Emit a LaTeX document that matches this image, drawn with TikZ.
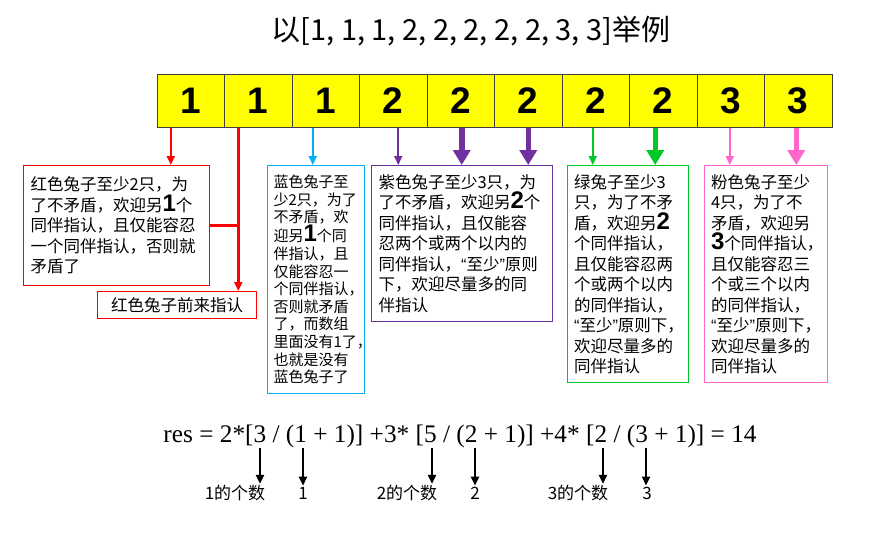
\documentclass[tikz,border=0pt]{standalone}
\usepackage{fontspec}
\usepackage{tikz}
\usetikzlibrary{positioning}
\usetikzlibrary{arrows.meta}

\newfontfamily\cjk{Noto Sans CJK SC}
\newfontfamily\arialf{Liberation Sans}
\newfontfamily\timesf{Liberation Serif}

\definecolor{rosso}{RGB}{255,0,0}
\definecolor{azzurro}{RGB}{0,176,240}
\definecolor{viola}{RGB}{112,48,160}
\definecolor{verde}{RGB}{0,200,40}
\definecolor{rosa}{RGB}{255,102,204}
\definecolor{giallo}{RGB}{255,255,0}

\newcommand{\cifra}[1]{{\arialf\bfseries\fontsize{24}{24}\selectfont #1}}
\newcommand{\virg}[1]{{\arialf “}#1{\arialf ”}}

\tikzset{
    cella/.style={draw=black!75, line width=1pt, fill=giallo, minimum width=67.5pt, minimum height=53pt, inner sep=0pt, outer sep=0pt, font=\arialf\bfseries\fontsize{37}{37}\selectfont},
    testo/.style={draw, line width=1pt, anchor=north west, inner xsep=7pt, inner ysep=3pt, align=left, font=\cjk\fontsize{16.5}{20.5}\selectfont},
    etichetta/.style={inner sep=1pt, font=\cjk\fontsize{17}{17}\selectfont},
    freccina/.style={line width=2pt, -{Triangle[width=8pt, length=9pt]}},
    freccia/.style={line width=5.5pt, -{Triangle[width=17pt, length=15pt]}},
    nera/.style={line width=2.5pt, -{Triangle[width=8pt, length=9pt]}}
}

\begin{document}
\begin{tikzpicture}[x=1pt, y=-1pt]
    \fill[white] (0,0) rectangle (872,533);
    \useasboundingbox (0,0) rectangle (872,533);

    \node[font=\cjk\fontsize{29}{29}\selectfont] (titolo) at (471,31) {以[1, 1, 1, 2, 2, 2, 2, 2, 3, 3]举例};

    % celle dell'array
    \node[cella] (c1) at (190.75,101) {1};
    \foreach \v [count=\i from 2, remember=\i as \j (initially 1)] in {1,1,2,2,2,2,2,3,3}
        \node[cella, right=0pt of c\j] (c\i) {\v};

    % riquadri
    \node[testo, draw=rosso, minimum width=186pt, minimum height=120pt, text width=172pt] (r1) at (23,165)
        {红色兔子至少2只，为\\了不矛盾，欢迎另\cifra{1}个\\同伴指认，且仅能容忍\\一个同伴指认，否则就\\矛盾了};
    \node[testo, draw=rosso, minimum width=159pt, minimum height=27pt, align=center] (r2) at (97,291) {红色兔子前来指认};
    \node[testo, draw=azzurro, minimum width=97pt, minimum height=228pt, text width=85pt, inner xsep=6pt,
          font=\cjk\fontsize{15}{17.6}\selectfont] (b1) at (267,165)
        {蓝色兔子至\\少2只，为了\\不矛盾，欢\\迎另\cifra{1}个同\\伴指认，且\\仅能容忍一\\个同伴指认，\\否则就矛盾\\了，而数组\\里面没有1了，\\也就是没有\\蓝色兔子了};
    \node[testo, draw=viola, minimum width=181pt, minimum height=156pt, text width=167pt] (v1) at (371,165)
        {紫色兔子至少3只，为\\了不矛盾，欢迎另\cifra{2}个\\同伴指认，且仅能容\\忍两个或两个以内的\\同伴指认，\virg{至少}原则\\下，欢迎尽量多的同\\伴指认};
    \node[testo, draw=verde, minimum width=121pt, minimum height=217pt, text width=108pt, inner xsep=6pt] (g1) at (567,165)
        {绿兔子至少3\\只，为了不矛\\盾，欢迎另\cifra{2}\\个同伴指认，\\且仅能容忍两\\个或两个以内\\的同伴指认，\\\virg{至少}原则下，\\欢迎尽量多的\\同伴指认};
    \node[testo, draw=rosa, minimum width=123pt, minimum height=217pt, text width=110pt, inner xsep=6pt] (k1) at (704,165)
        {粉色兔子至少\\4只，为了不\\矛盾，欢迎另\\\cifra{3}个同伴指认，\\且仅能容忍三\\个或三个以内\\的同伴指认，\\\virg{至少}原则下，\\欢迎尽量多的\\同伴指认};

    % frecce dalle celle
    \foreach \i/\dx in {1/-20, 2/-20, 3/-13, 4/5, 5/1, 6/0, 7/-3, 8/-8, 9/-1, 10/-2}
        \coordinate (s\i) at ([xshift=\dx pt]c\i.south);

    \draw[freccina, rosso, line width=2.5pt] (s1) -- (s1 |- r1.north);
    \draw[freccina, rosso, line width=3pt] (s2) -- (s2 |- r2.north);
    \draw[rosso, line width=3pt] (r1.east) -- (r1.east -| s2);
    \draw[freccina, azzurro] (s3) -- (s3 |- b1.north);
    \draw[freccina, viola] (s4) -- (s4 |- v1.north);
    \draw[freccia, viola] (s5) -- (s5 |- v1.north);
    \draw[freccia, viola] (s6) -- (s6 |- v1.north);
    \draw[freccina, verde] (s7) -- (s7 |- g1.north);
    \draw[freccia, verde] (s8) -- (s8 |- g1.north);
    \draw[freccina, rosa] (s9) -- (s9 |- k1.north);
    \draw[freccia, rosa] (s10) -- (s10 |- k1.north);

    % formula in basso
    \node[font=\timesf\fontsize{25.3}{25.3}\selectfont] (formula) at (460,436) {res = 2*[3 / (1 + 1)] +3* [5 / (2 + 1)] +4* [2 / (3 + 1)] = 14};

    \node[etichetta] (e1) at (235,493) {1的个数};
    \node[etichetta] (e2) at (303,493) {1};
    \node[etichetta] (e3) at (407,493) {2的个数};
    \node[etichetta] (e4) at (475,493) {2};
    \node[etichetta] (e5) at (578,493) {3的个数};
    \node[etichetta] (e6) at (647,493) {3};

    \coordinate (q1) at (260,448);
    \coordinate (q2) at (303,448);
    \coordinate (q3) at (432,448);
    \coordinate (q4) at (475,448);
    \coordinate (q5) at (603,448);
    \coordinate (q6) at (646,448);

    \draw[nera] (q1) -- (q1 |- e1.north);
    \draw[nera] (q2) -- (q2 |- e2.north);
    \draw[nera] (q3) -- (q3 |- e3.north);
    \draw[nera] (q4) -- (q4 |- e4.north);
    \draw[nera] (q5) -- (q5 |- e5.north);
    \draw[nera] (q6) -- (q6 |- e6.north);

\end{tikzpicture}
\end{document}
